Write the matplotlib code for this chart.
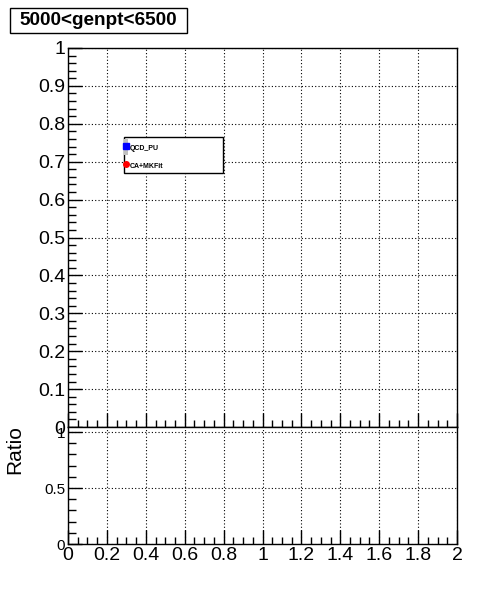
import matplotlib
matplotlib.use("Agg")
import matplotlib.pyplot as plt
from matplotlib.ticker import MultipleLocator
from matplotlib.patches import Rectangle

# efficiency vs x, both series are empty in this bin
x_vals = []
qcd_pu_eff = []
ca_mkfit_eff = []
ratio_vals = []

title = "5000<genpt<6500"
series_names = ["QCD_PU", "CA+MKFit"]
series_colors = ["#0000ff", "#ff0000"]
series_markers = ["s", "o"]

plt.rcParams["font.family"] = ["Liberation Sans", "DejaVu Sans"]

fig = plt.figure(figsize=(4.96, 5.97), dpi=100)
ax = fig.add_axes([68/496, 1-427/597, (457-68)/496, (427-48)/597])
axr = fig.add_axes([68/496, 1-544/597, (457-68)/496, (544-427)/597])

ax.plot(x_vals, qcd_pu_eff, "s", color=series_colors[0], ms=4)
ax.plot(x_vals, ca_mkfit_eff, "o", color=series_colors[1], ms=4)
axr.plot(x_vals, ratio_vals, "o", color="black", ms=3)

for a in (ax, axr):
    a.set_xlim(0, 2)
    a.xaxis.set_major_locator(MultipleLocator(0.2))
    a.xaxis.set_minor_locator(MultipleLocator(0.05))
    a.grid(True, which="major", color="black", linestyle=(0, (1, 2)), linewidth=0.8)
    a.tick_params(which="both", direction="in", top=False, right=False, width=1)
    for s in a.spines.values():
        s.set_linewidth(1)

ax.set_ylim(0, 1)
ax.yaxis.set_minor_locator(MultipleLocator(0.02))
ax.tick_params(axis="y", which="major", length=10, labelsize=14, pad=2)
ax.tick_params(axis="y", which="minor", length=6)
ax.tick_params(axis="x", which="major", length=10, labelbottom=False)
ax.tick_params(axis="x", which="minor", length=5)
ax.set_yticks([i/10 for i in range(11)])
ax.set_yticklabels(["0"] + ["0.%d" % i for i in range(1, 10)] + ["1"])

axr.set_ylim(0, 1.045)
axr.yaxis.set_minor_locator(MultipleLocator(0.1))
axr.set_yticks([0, 0.5, 1])
axr.set_yticklabels(["0", "0.5", "1"])
axr.tick_params(axis="y", which="major", length=10, labelsize=11, pad=2)
axr.tick_params(axis="y", which="minor", length=6)
axr.tick_params(axis="x", which="major", length=10, labelsize=14, pad=2)
axr.tick_params(axis="x", which="minor", length=5)
axr.set_xticks([i/5 for i in range(11)])
axr.set_xticklabels(["0", "0.2", "0.4", "0.6", "0.8", "1", "1.2", "1.4", "1.6", "1.8", "2"])
axr.set_ylabel("Ratio", fontsize=15)
axr.yaxis.set_label_coords(-44/389, (544-450)/117)

# title box
fig.patches.append(Rectangle((10/496, 1-33/597), 177/496, 25/597, transform=fig.transFigure,
                             facecolor="white", edgecolor="black", linewidth=1))
fig.text(98.5/496, 1-20.5/597, title, fontsize=13.7, fontweight="bold", ha="center", va="center")

# legend box
lx0, ly0 = (124-68)/389, (427-173)/379
lw, lh = (223-124)/389, (173-137)/379
ax.add_patch(Rectangle((lx0, ly0), lw, lh, transform=ax.transAxes, facecolor="white",
                       edgecolor="black", linewidth=1, zorder=5))
ax.add_patch(Rectangle((lx0, ly0 + lh * 0.5), 4/389, lh * 0.45, transform=ax.transAxes,
                       facecolor="#c0c0c0", edgecolor="none", zorder=5.5))
for i, name in enumerate(series_names):
    yy = ly0 + lh * (0.75 - 0.5 * i)
    ax.plot([lx0 + 0.005], [yy], marker=series_markers[i], color=series_colors[i], ms=4,
            transform=ax.transAxes, zorder=6, clip_on=False)
    ax.text(lx0 + 0.016, yy - lh * 0.06, name, fontsize=5, fontweight="bold", va="center",
            transform=ax.transAxes, zorder=6)

fig.savefig("out.png", dpi=100)
